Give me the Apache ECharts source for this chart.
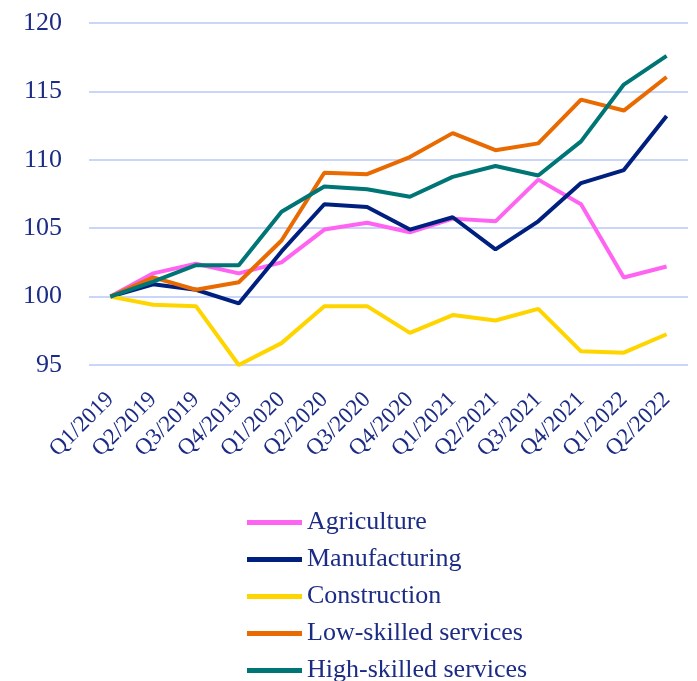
<!DOCTYPE html>
<html>
<head>
<meta charset="utf-8">
<script src="https://cdn.jsdelivr.net/npm/echarts@6/dist/echarts.min.js"></script>
<style>
  * { margin: 0; padding: 0; }
  body { background: #fff; }
</style>
</head>
<body>
<div id="main" style="width: 697px; height: 681px;"></div>
<script>
  var quarters = ['Q1/2019', 'Q2/2019', 'Q3/2019', 'Q4/2019', 'Q1/2020', 'Q2/2020', 'Q3/2020',
    'Q4/2020', 'Q1/2021', 'Q2/2021', 'Q3/2021', 'Q4/2021', 'Q1/2022', 'Q2/2022']
  var agriculture = [100, 101.7, 102.4, 101.7, 102.5, 104.9, 105.4, 104.7, 105.7, 105.5, 108.55, 106.75, 101.4, 102.2]
  var manufacturing = [100, 100.9, 100.5, 99.5, 103.3, 106.75, 106.55, 104.9, 105.8, 103.45, 105.5, 108.3, 109.25, 113.2]
  var construction = [100, 99.4, 99.3, 95.0, 96.6, 99.3, 99.3, 97.35, 98.65, 98.25, 99.1, 96.0, 95.9, 97.25]
  var lowSkilled = [100, 101.4, 100.5, 101.05, 104.1, 109.05, 108.95, 110.2, 111.95, 110.7, 111.2, 114.4, 113.6, 116.05]
  var highSkilled = [100, 101.1, 102.3, 102.3, 106.2, 108.05, 107.85, 107.3, 108.75, 109.55, 108.85, 111.35, 115.5, 117.6]
  var yTicks = [95, 100, 105, 110, 115, 120]

  var names = ['Agriculture', 'Manufacturing', 'Construction', 'Low-skilled services', 'High-skilled services']
  var colors = ['#ff63f2', '#00207f', '#ffd500', '#e86a00', '#007575']
  var values = [agriculture, manufacturing, construction, lowSkilled, highSkilled]
  var textColor = '#1c2c85'
  var font = '"Liberation Serif", serif'

  var chart = echarts.init(document.getElementById('main'))
  chart.setOption({
    animation: false,
    color: colors,
    grid: { left: 89, right: 9, top: 23, height: 342 },
    legend: {
      orient: 'vertical',
      left: 247,
      top: 509,
      height: 220,
      padding: 0,
      icon: 'rect',
      itemWidth: 55,
      itemHeight: 5,
      itemGap: 10,
      data: names,
      textStyle: { color: textColor, fontFamily: font, fontSize: 26, lineHeight: 27 }
    },
    xAxis: {
      type: 'category',
      data: quarters,
      boundaryGap: true,
      axisLine: { show: false },
      axisTick: { show: false },
      axisLabel: {
        rotate: 45,
        interval: 0,
        margin: 31,
        color: textColor,
        fontFamily: font,
        fontSize: 23
      }
    },
    yAxis: {
      type: 'value',
      min: yTicks[0],
      max: yTicks[yTicks.length - 1],
      interval: 5,
      axisLabel: { color: textColor, fontFamily: font, fontSize: 26, margin: 27 },
      splitLine: { lineStyle: { color: '#c9d6fa', width: 2 } }
    },
    series: values.map(function (v, i) {
      return {
        name: names[i],
        type: 'line',
        data: v,
        symbol: 'none',
        lineStyle: { width: 4, color: colors[i] }
      }
    })
  })
</script>
</body>
</html>
